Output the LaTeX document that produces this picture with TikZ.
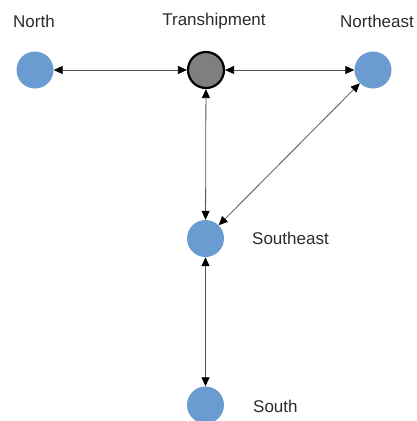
\documentclass[tikz,border=0pt]{standalone}
\usepackage{fontspec}
\setmainfont{Liberation Sans}
\usetikzlibrary{arrows.meta}
\definecolor{nodeblue}{HTML}{6A9BD1}
\definecolor{hubgray}{HTML}{7F7F7F}
\definecolor{linkgray}{HTML}{555555}
\definecolor{labeltext}{HTML}{2B2B2B}
\begin{document}
\begin{tikzpicture}[x=1pt,y=-1pt,
  site/.style={circle,fill=nodeblue,draw=none,minimum size=37pt,inner sep=0pt},
  hub/.style={circle,fill=hubgray,draw=black,line width=2.2pt,minimum size=36pt,inner sep=0pt},
  sitelabel/.style={text=labeltext,font=\fontsize{17}{20}\selectfont,inner sep=0pt},
  tip/.style={Triangle[length=9pt,width=8pt,fill=black,color=black]},
  link/.style={draw=linkgray,line width=0.8pt,{Triangle[length=9pt,width=8pt,fill=black,color=black]}-{Triangle[length=9pt,width=8pt,fill=black,color=black]}}
]
\useasboundingbox (0,0) rectangle (416,421);

% stations
\node[site] (north) at (35,70) {};
\node[hub] (trans) at (206,70) {};
\node[site] (northeast) at (373,70) {};
\node[site] (southeast) at (205.5,238.5) {};
\node[site] (south) at (205.5,405) {};

% labels
\node[sitelabel] (lnorth) at (34,21) {North};
\node[sitelabel] (ltrans) at (214,21) {Transhipment};
\node[sitelabel] (lnortheast) at (377,21) {Northeast};
\node[sitelabel,anchor=west] (lsoutheast) at (252,238.5) {Southeast};
\node[sitelabel,anchor=west] (lsouth) at (253,406) {South};

% links
\draw[link] (north) -- (trans);
\draw[link] (trans) -- (northeast);
\draw[link] (trans) -- (southeast);
\draw[link] (northeast) -- (southeast);
\draw[link] (southeast) -- (south);
\end{tikzpicture}
\end{document}
